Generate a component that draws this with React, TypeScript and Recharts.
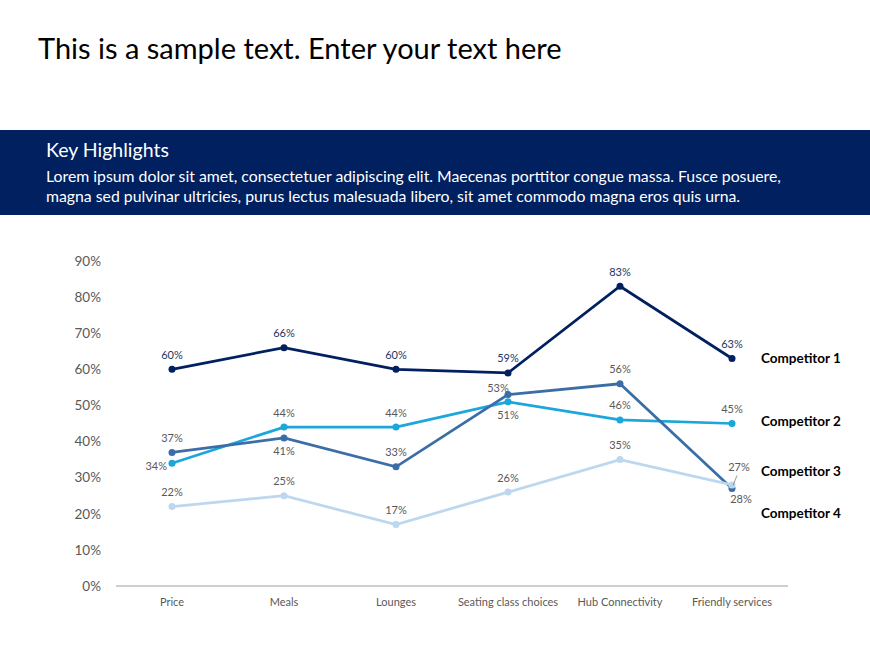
import { LineChart, Line, XAxis, YAxis, LabelList } from "recharts";

const categories = [
  "Price",
  "Meals",
  "Lounges",
  "Seating class choices",
  "Hub Connectivity",
  "Friendly services",
];

const competitor1 = [60, 66, 60, 59, 83, 63];
const competitor2 = [34, 44, 44, 51, 46, 45];
const competitor3 = [37, 41, 33, 53, 56, 27];
const competitor4 = [22, 25, 17, 26, 35, 28];

const yTicks = [0, 10, 20, 30, 40, 50, 60, 70, 80, 90];

// where each value label sits relative to its point
const placement1 = ["above", "above", "above", "above", "above", "above"];
const placement2 = ["left", "above", "above", "below", "above", "above"];
const placement3 = ["above", "below", "above", "aboveLeft", "above", "aboveRight"];
const placement4 = ["above", "above", "above", "above", "above", "belowRight"];

const data = categories.map((name, i) => ({
  name,
  c1: competitor1[i],
  c2: competitor2[i],
  c3: competitor3[i],
  c4: competitor4[i],
}));

const FONT = "Lato, 'Open Sans', sans-serif";

const offsets: Record<string, [number, number, string]> = {
  above: [0, -15, "middle"],
  below: [0, 13, "middle"],
  left: [-5, 2, "end"],
  aboveLeft: [-10, -7, "middle"],
  aboveRight: [7, -22, "middle"],
  belowRight: [9, 14, "middle"],
};

type SeriesDef = {
  key: string;
  name: string;
  color: string;
  labelColor: string;
  placement: string[];
  legendDy: number;
};

const series: SeriesDef[] = [
  { key: "c1", name: "Competitor 1", color: "#002060", labelColor: "#203864", placement: placement1, legendDy: -1 },
  { key: "c2", name: "Competitor 2", color: "#1ba6dc", labelColor: "#595959", placement: placement2, legendDy: -3 },
  { key: "c3", name: "Competitor 3", color: "#3b6ea7", labelColor: "#595959", placement: placement3, legendDy: -18 },
  { key: "c4", name: "Competitor 4", color: "#bdd7ee", labelColor: "#595959", placement: placement4, legendDy: 28 },
];

function makeLabel(s: SeriesDef) {
  return (props: any) => {
    const { x, y, value, index } = props;
    const [dx, dy, anchor] = offsets[s.placement[index]] || offsets.above;
    const last = index === categories.length - 1;
    return (
      <g>
        {s.placement[index] === "aboveRight" && (
          <line x1={x + 1} y1={y - 3} x2={x + 5} y2={y - 13} stroke="#7f7f7f" strokeWidth={0.8} />
        )}
        <text
          x={x + dx}
          y={y + dy}
          textAnchor={anchor as any}
          dominantBaseline="central"
          fontSize={11}
          fontFamily={FONT}
          fill={s.labelColor}
        >
          {value}%
        </text>
        {last && (
          <text
            x={x + 29}
            y={y + s.legendDy}
            dominantBaseline="central"
            fontSize={13.5}
            fontWeight={700}
            fontFamily={FONT}
            fill="#000000"
          >
            {s.name}
          </text>
        )}
      </g>
    );
  };
}

export default function App() {
  return (
    <div
      style={{
        position: "absolute",
        left: 0,
        top: 0,
        width: 870,
        height: 653,
        background: "#ffffff",
        fontFamily: FONT,
        overflow: "hidden",
      }}
    >
      <div
        style={{
          position: "absolute",
          left: 38,
          top: 30,
          fontSize: 29,
          lineHeight: "36px",
          color: "#000000",
          whiteSpace: "nowrap",
        }}
      >
        This is a sample text. Enter your text here
      </div>
      <div
        style={{
          position: "absolute",
          left: 0,
          top: 130,
          width: 870,
          height: 85,
          background: "#002060",
          color: "#ffffff",
        }}
      >
        <div style={{ position: "absolute", left: 46, top: 7, fontSize: 19.5, lineHeight: "26px" }}>
          Key Highlights
        </div>
        <div
          style={{
            position: "absolute",
            left: 46,
            top: 36,
            fontSize: 15.8,
            lineHeight: "20px",
            width: 820,
            whiteSpace: "nowrap",
          }}
        >
          Lorem ipsum dolor sit amet, consectetuer adipiscing elit. Maecenas porttitor congue massa. Fusce posuere,
          <br />
          magna sed pulvinar ultricies, purus lectus malesuada libero, sit amet commodo magna eros quis urna.
        </div>
      </div>
      <div style={{ position: "absolute", left: 0, top: 240 }}>
        <LineChart
          width={870}
          height={390}
          data={data}
          margin={{ top: 21, right: 82, left: 0, bottom: 0 }}
        >
          <XAxis
            dataKey="name"
            height={44}
            padding={{ left: 56, right: 56 }}
            axisLine={{ stroke: "#bfbfbf", strokeWidth: 1.5 }}
            tickLine={false}
            tickMargin={6}
            interval={0}
            tick={{ fontSize: 11, fill: "#595959", fontFamily: FONT }}
          />
          <YAxis
            width={116}
            domain={[0, 90]}
            ticks={yTicks}
            axisLine={false}
            tickLine={false}
            tickMargin={9}
            tickFormatter={(v) => `${v}%`}
            tick={{ fontSize: 13.5, fill: "#595959", fontFamily: FONT }}
          />
          {series.map((s) => (
            <Line
              key={s.key}
              dataKey={s.key}
              stroke={s.color}
              strokeWidth={2.75}
              dot={{ r: 3.5, fill: s.color, stroke: s.color, strokeWidth: 0 }}
              isAnimationActive={false}
            >
              <LabelList dataKey={s.key} content={makeLabel(s)} />
            </Line>
          ))}
        </LineChart>
      </div>
    </div>
  );
}
